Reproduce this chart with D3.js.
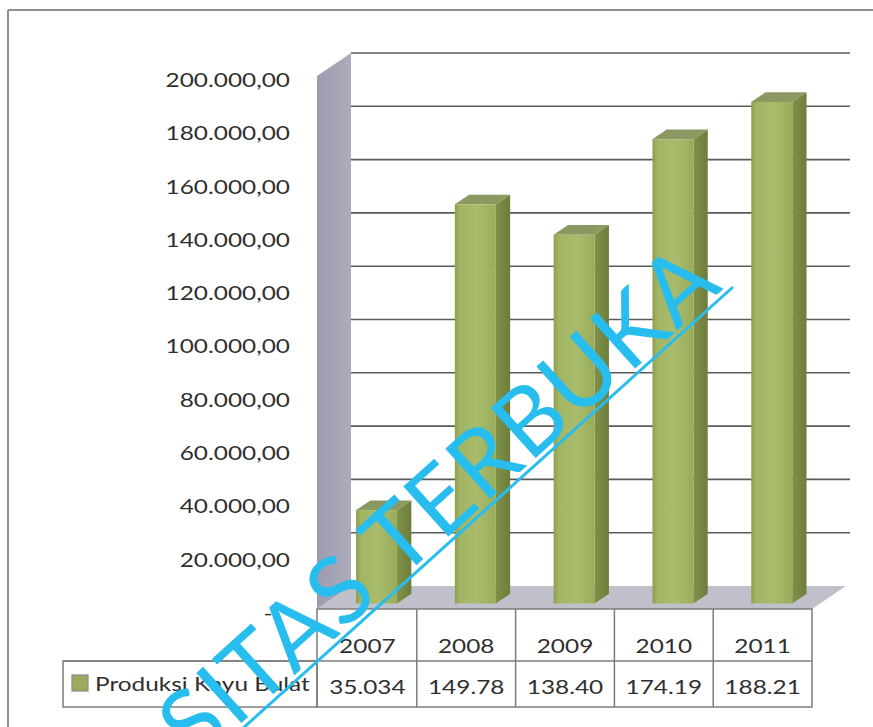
<!DOCTYPE html>
<html>
<head>
<meta charset="utf-8">
<script src="https://cdn.jsdelivr.net/npm/d3@7/dist/d3.min.js"></script>
<style>
  html, body { margin: 0; padding: 0; background: #fff; }
  svg { display: block; }
  text { font-family: Lato, "Noto Sans", sans-serif; fill: #2f2f2f; }
</style>
</head>
<body>
<svg id="chart" width="873" height="727"></svg>
<script>
// Produksi kayu bulat per tahun
const categories = ["2007", "2008", "2009", "2010", "2011"];
const produksi = [35034, 149780, 138400, 174190, 188210];
const yTicks = [0, 20000, 40000, 60000, 80000, 100000, 120000, 140000, 160000, 180000, 200000];
const seriesName = "Produksi Kayu Bulat";
const watermark = "UNIVERSITAS TERBUKA";

const svg = d3.select("#chart");
const W = 873, H = 727;
const SX = 1.22;            // horizontal stretch of all lettering
const DX = 34, DY = -23;    // depth offset of the 3D box (front -> back)
const T_FRONT = 0.24, T_BACK = 0.66;  // depth of the columns

const idLocale = d3.formatLocale({ decimal: ",", thousands: ".", grouping: [3], currency: ["Rp", ""] });
const fmtAxis = idLocale.format(",.2f");
const fmtCell = v => idLocale.format(",.2f")(v).slice(0, 6);   // cell width clips the value

const x = d3.scaleBand().domain(categories).range([318, 812]);
const y = d3.scaleLinear().domain([0, 200000]).range([609, 76]);
const P = (px, v, t) => [px + DX * t, y(v) + DY * t];

// chart frame
svg.append("line").attr("x1", 8).attr("y1", 10).attr("x2", W).attr("y2", 10)
  .attr("stroke", "#8e8e8e").attr("stroke-width", 2);
svg.append("line").attr("x1", 8).attr("y1", 10).attr("x2", 8).attr("y2", H)
  .attr("stroke", "#8e8e8e").attr("stroke-width", 2);

const defs = svg.append("defs");
const gWall = defs.append("linearGradient").attr("id", "wall").attr("x1", 0).attr("x2", 1);
gWall.append("stop").attr("offset", 0).attr("stop-color", "#9c9caf");
gWall.append("stop").attr("offset", 1).attr("stop-color", "#acacbd");
const gFront = defs.append("linearGradient").attr("id", "front").attr("x1", 0).attr("x2", 1);
gFront.append("stop").attr("offset", 0).attr("stop-color", "#8d9f4f");
gFront.append("stop").attr("offset", 0.12).attr("stop-color", "#a2b564");
gFront.append("stop").attr("offset", 0.55).attr("stop-color", "#a9bc6d");
gFront.append("stop").attr("offset", 1).attr("stop-color", "#99ac5a");
const gSide = defs.append("linearGradient").attr("id", "side").attr("x1", 0).attr("x2", 1);
gSide.append("stop").attr("offset", 0).attr("stop-color", "#7f9148");
gSide.append("stop").attr("offset", 1).attr("stop-color", "#6d7d3c");

const x0 = x.range()[0] - 1, x1 = x.range()[1];
const poly = pts => pts.map(p => p.join(",")).join(" ");

// side wall
svg.append("polygon")
  .attr("points", poly([P(x0, 0, 0), P(x0, 200000, 0), P(x0, 200000, 1), P(x0, 0, 1)]))
  .attr("fill", "url(#wall)");
// floor
svg.append("polygon")
  .attr("points", poly([P(x0, 0, 0), P(x1, 0, 0), P(x1, 0, 1), P(x0, 0, 1)]))
  .attr("fill", "#c0c0cb");

// gridlines on the back wall
svg.append("g").selectAll("line").data(yTicks.filter(d => d > 0)).join("line")
  .attr("x1", P(x0, 0, 1)[0]).attr("x2", x1 + DX + 4)
  .attr("y1", d => P(0, d, 1)[1]).attr("y2", d => P(0, d, 1)[1])
  .attr("stroke", "#5a5a5a").attr("stroke-width", 1.6);

// y axis labels
const axis = d3.axisLeft(y).tickValues(yTicks).tickSize(0).tickPadding(27)
  .tickFormat(d => d === 0 ? "-" : fmtAxis(d));
const ga = svg.append("g").attr("transform", `translate(${x0},4)`).call(axis);
ga.select(".domain").remove();
ga.selectAll("text")
  .attr("font-size", 20).attr("font-family", "Lato, sans-serif").attr("fill", "#2f2f2f")
  .attr("x", d => d === 0 ? -49 / SX : -27 / SX)
  .attr("text-anchor", d => d === 0 ? "middle" : "end")
  .attr("transform", `scale(${SX},1)`);

// columns
const bw = 41;
const bars = svg.append("g").selectAll("g").data(categories.map((c, i) => ({ c, v: produksi[i] }))).join("g");
const bx = d => x(d.c) + (x.bandwidth() - bw) / 2 + 1;
bars.append("polygon").attr("points", d => poly([
  P(bx(d) + bw, d.v, T_FRONT), P(bx(d) + bw, d.v, T_BACK), P(bx(d) + bw, 0, T_BACK), P(bx(d) + bw, 0, T_FRONT)
])).attr("fill", "url(#side)");
bars.append("polygon").attr("points", d => poly([
  P(bx(d), d.v, T_FRONT), P(bx(d) + bw, d.v, T_FRONT), P(bx(d) + bw, d.v, T_BACK), P(bx(d), d.v, T_BACK)
])).attr("fill", "#8a9862");
bars.append("rect")
  .attr("x", d => P(bx(d), d.v, T_FRONT)[0])
  .attr("y", d => P(bx(d), d.v, T_FRONT)[1])
  .attr("width", bw)
  .attr("height", d => y(0) - y(d.v))
  .attr("fill", "url(#front)");

// data table
const tTop = 609, tMid = 661, tBot = 707, legL = 63;
const tbl = svg.append("g").attr("stroke", "#7c7c7c").attr("stroke-width", 1.5).attr("fill", "none");
tbl.append("rect").attr("x", x0).attr("y", tTop).attr("width", x1 - x0).attr("height", tBot - tTop);
tbl.append("line").attr("x1", legL).attr("x2", x1).attr("y1", tMid).attr("y2", tMid);
tbl.append("rect").attr("x", legL).attr("y", tMid).attr("width", x0 - legL).attr("height", tBot - tMid);
tbl.selectAll(".sep").data(categories.slice(1)).join("line").attr("class", "sep")
  .attr("x1", d => x(d)).attr("x2", d => x(d)).attr("y1", tTop).attr("y2", tBot);

const cellText = (sel, yy) => sel
  .attr("transform", d => `translate(${x(d.c) + x.bandwidth() / 2},${yy}) scale(${SX},1)`)
  .attr("text-anchor", "middle").attr("dy", "0.35em").attr("font-size", 20);
const rows = categories.map((c, i) => ({ c, v: produksi[i] }));
svg.append("g").selectAll("text").data(rows).join("text").text(d => d.c).call(cellText, 646);
svg.append("g").selectAll("text").data(rows).join("text").text(d => fmtCell(d.v)).call(cellText, 687);

// legend key
svg.append("rect").attr("x", 72).attr("y", 675).attr("width", 16).attr("height", 16)
  .attr("fill", "#9aad5c").attr("stroke", "#8a8a8a").attr("stroke-width", 1.2);
svg.append("text").text(seriesName)
  .attr("transform", `translate(95,684) scale(${SX},1)`)
  .attr("dy", "0.35em").attr("font-size", 20);

// watermark
const ang = -42;
const wm = svg.append("g").attr("transform", `translate(733,287) rotate(${ang})`);
wm.append("line").attr("x1", 0).attr("y1", 0).attr("x2", -700).attr("y2", 0)
  .attr("stroke", "#27bdee").attr("stroke-width", 3);
wm.append("text").text(watermark)
  .attr("x", -6).attr("y", -5)
  .attr("text-anchor", "end")
  .attr("font-family", "Liberation Sans, Arial, sans-serif")
  .attr("font-size", 94)
  .attr("letter-spacing", 2)
  .style("fill", "#27bdee");
</script>
</body>
</html>
